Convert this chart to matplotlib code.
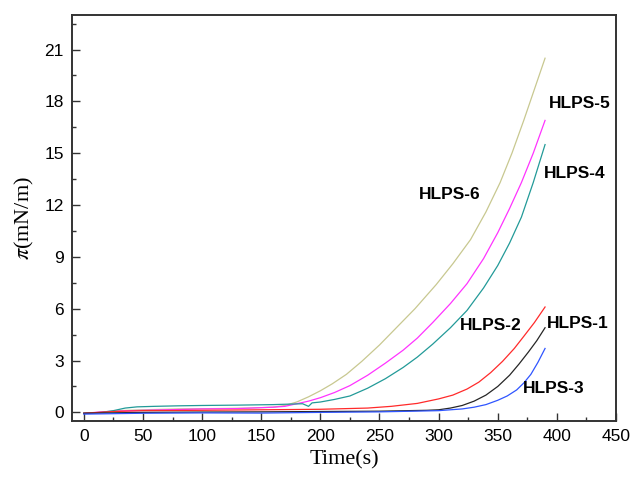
#!/usr/bin/env python3

# Surface pressure vs time for the HLPS samples

import matplotlib
matplotlib.use("Agg")
import matplotlib.pyplot as plt
from matplotlib.ticker import MultipleLocator

plt.rcParams["mathtext.fontset"] = "stix"

# DATA
t_6 = [0, 15, 30, 50, 80, 110, 140, 160, 170, 180, 190, 200, 210, 222, 235, 250, 265, 280, 298, 312, 327, 340, 352, 362, 372, 381, 390]
p_6 = [-0.05, 0.0, 0.1, 0.15, 0.2, 0.22, 0.25, 0.3, 0.4, 0.6, 0.9, 1.25, 1.65, 2.2, 2.95, 3.9, 4.95, 6.0, 7.4, 8.6, 10.0, 11.6, 13.3, 15.0, 16.9, 18.7, 20.5]

t_5 = [0, 20, 40, 70, 100, 130, 160, 170, 180, 190, 200, 212, 225, 240, 255, 270, 282, 295, 310, 324, 338, 350, 360, 370, 380, 390]
p_5 = [-0.05, 0.05, 0.1, 0.15, 0.2, 0.22, 0.3, 0.35, 0.5, 0.65, 0.85, 1.15, 1.55, 2.15, 2.85, 3.6, 4.3, 5.2, 6.3, 7.45, 8.9, 10.4, 11.8, 13.3, 15.0, 16.9]

t_4 = [0, 15, 25, 35, 45, 60, 80, 100, 130, 160, 185, 190, 193, 200, 212, 225, 240, 255, 270, 282, 295, 310, 324, 338, 350, 360, 370, 380, 390]
p_4 = [-0.05, 0.0, 0.1, 0.25, 0.32, 0.35, 0.38, 0.4, 0.42, 0.45, 0.5, 0.35, 0.55, 0.6, 0.75, 0.95, 1.4, 1.95, 2.6, 3.2, 3.95, 4.9, 5.9, 7.2, 8.5, 9.8, 11.3, 13.3, 15.5]

t_2 = [0, 25, 50, 100, 150, 200, 240, 260, 282, 300, 312, 324, 334, 344, 354, 364, 372, 381, 390]
p_2 = [-0.05, 0.05, 0.1, 0.12, 0.15, 0.18, 0.25, 0.35, 0.52, 0.78, 1.0, 1.35, 1.75, 2.3, 2.95, 3.7, 4.4, 5.2, 6.1]

t_1 = [0, 50, 100, 150, 200, 250, 290, 300, 310, 320, 330, 340, 350, 360, 368, 376, 383, 390]
p_1 = [-0.05, 0.0, 0.02, 0.03, 0.05, 0.07, 0.12, 0.15, 0.25, 0.4, 0.65, 1.0, 1.5, 2.15, 2.8, 3.5, 4.15, 4.9]

t_3 = [0, 50, 100, 150, 200, 250, 300, 320, 330, 340, 350, 358, 366, 372, 378, 384, 390]
p_3 = [-0.1, -0.05, -0.03, -0.04, 0.0, 0.03, 0.1, 0.2, 0.3, 0.45, 0.7, 0.95, 1.3, 1.7, 2.2, 2.9, 3.7]

labels = ["HLPS-6", "HLPS-5", "HLPS-4", "HLPS-2", "HLPS-1", "HLPS-3"]
label_x = [309, 419, 415, 344, 418, 397]
label_y = [12.6, 17.9, 13.8, 5.0, 5.15, 1.4]

series = [
    (t_6, p_6, "#c8c890"),
    (t_5, p_5, "#ff33ff"),
    (t_4, p_4, "#229a98"),
    (t_2, p_2, "#ff2a2a"),
    (t_1, p_1, "#262626"),
    (t_3, p_3, "#2f55ff"),
]

fig = plt.figure(figsize=(6.32, 4.78), dpi=100)
ax = fig.add_axes([0.1139, 0.1192, 0.8608, 0.8494])

for t, p, c in series:
    ax.plot(t, p, color=c, lw=0.9)

for lab, x, y in zip(labels, label_x, label_y):
    ax.text(x, y, lab, ha="center", va="center", fontsize=12.5,
            fontweight="bold", family="Liberation Sans")

ax.set_xlim(-10, 450)
ax.set_ylim(-0.5, 23)
ax.xaxis.set_major_locator(MultipleLocator(50))
ax.xaxis.set_minor_locator(MultipleLocator(25))
ax.yaxis.set_major_locator(MultipleLocator(3))
ax.yaxis.set_minor_locator(MultipleLocator(1.5))

ax.tick_params(which="both", direction="in", width=1, color="#333333")
ax.tick_params(which="major", length=6, pad=6, labelsize=12.5)
ax.tick_params(which="minor", length=3)
for lab in ax.get_xticklabels() + ax.get_yticklabels():
    lab.set_family("Liberation Sans")

for s in ax.spines.values():
    s.set_linewidth(1.4)
    s.set_color("#333333")

ax.set_xlabel("Time(s)", family="Liberation Serif", fontsize=16, labelpad=4)
ax.set_ylabel(r"$\pi$(mN/m)", family="Liberation Serif", fontsize=16, labelpad=6)

fig.savefig("out.png", dpi=100)
